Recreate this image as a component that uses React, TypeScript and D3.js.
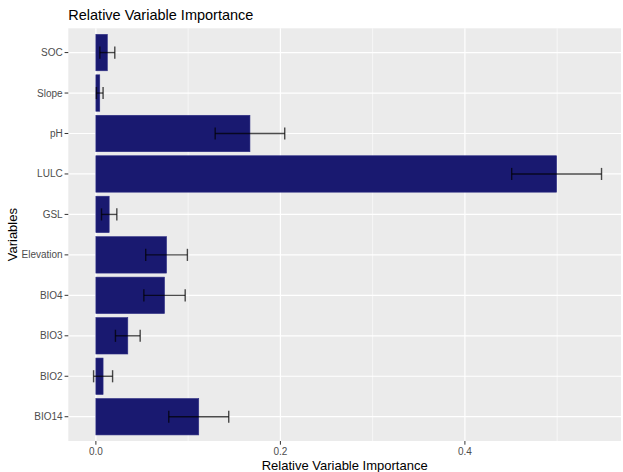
import React from "react";
import * as d3 from "d3";

// Variables listed from top to bottom of the chart
const variables = ["SOC", "Slope", "pH", "LULC", "GSL", "Elevation", "BIO4", "BIO3", "BIO2", "BIO14"];
// Mean relative importance per variable
const importance = [0.0124, 0.0042, 0.167, 0.4994, 0.0144, 0.0766, 0.0744, 0.0346, 0.0078, 0.1115];
// Standard deviation used for the error bars
const spread = [0.0081, 0.0036, 0.0377, 0.0487, 0.0083, 0.0226, 0.0224, 0.0134, 0.0103, 0.0325];
const majorTicks = [0, 0.2, 0.4];
const minorTicks = [0.1, 0.3, 0.5];

const W = 623;
const H = 472;
const panel = { left: 68.3, right: 621, top: 28.3, bottom: 441 };
const FONT = "'Liberation Sans', Arial, Helvetica, sans-serif";

export default function App() {
  const x = d3.scaleLinear().domain([-0.0299, 0.5692]).range([panel.left, panel.right]);
  // discrete axis: category centres spaced evenly with 0.6 unit expansion on each side
  const y = d3
    .scalePoint<string>()
    .domain(variables)
    .range([panel.top, panel.bottom])
    .padding(0.6);
  const step = y.step();
  const barH = step * 0.9;
  const capH = step * 0.3;

  return (
    <svg width={W} height={H} style={{ position: "absolute", left: 0, top: 0 }} fontFamily={FONT}>
      <rect x={0} y={0} width={W} height={H} fill="#ffffff" />
      <text x={panel.left} y={19.5} fontSize={14.5} fill="#000">
        Relative Variable Importance
      </text>
      <rect
        x={panel.left}
        y={panel.top}
        width={panel.right - panel.left}
        height={panel.bottom - panel.top}
        fill="#ebebeb"
      />
      {minorTicks.map((t) => (
        <line key={"mn" + t} x1={x(t)} x2={x(t)} y1={panel.top} y2={panel.bottom} stroke="#fff" strokeWidth={0.6} />
      ))}
      {majorTicks.map((t) => (
        <line key={"mj" + t} x1={x(t)} x2={x(t)} y1={panel.top} y2={panel.bottom} stroke="#fff" strokeWidth={1.2} />
      ))}
      {variables.map((v) => (
        <line key={"hg" + v} x1={panel.left} x2={panel.right} y1={y(v)!} y2={y(v)!} stroke="#fff" strokeWidth={1.2} />
      ))}
      {variables.map((v, i) => (
        <rect
          key={"b" + v}
          x={x(0)}
          y={y(v)! - barH / 2}
          width={x(importance[i]) - x(0)}
          height={barH}
          fill="#191970"
          stroke="#2e2e84"
          strokeWidth={0.6}
        />
      ))}
      {variables.map((v, i) => {
        const lo = x(importance[i] - spread[i]);
        const hi = x(importance[i] + spread[i]);
        const c = y(v)!;
        return (
          <g key={"e" + v} stroke="#000" strokeOpacity={0.7} strokeWidth={1.4} fill="none">
            <line x1={lo} x2={hi} y1={c} y2={c} />
            <line x1={lo} x2={lo} y1={c - capH / 2} y2={c + capH / 2} />
            <line x1={hi} x2={hi} y1={c - capH / 2} y2={c + capH / 2} />
          </g>
        );
      })}
      {variables.map((v) => (
        <g key={"yt" + v}>
          <line x1={panel.left - 3.7} x2={panel.left} y1={y(v)!} y2={y(v)!} stroke="#333" strokeWidth={1} />
          <text x={panel.left - 5.6} y={y(v)!} dy="0.35em" textAnchor="end" fontSize={10} fill="#4d4d4d">
            {v}
          </text>
        </g>
      ))}
      {majorTicks.map((t) => (
        <g key={"xt" + t}>
          <line x1={x(t)} x2={x(t)} y1={panel.bottom} y2={panel.bottom + 3.7} stroke="#333" strokeWidth={1} />
          <text x={x(t)} y={panel.bottom + 14} textAnchor="middle" fontSize={10} fill="#4d4d4d">
            {d3.format(".1f")(t)}
          </text>
        </g>
      ))}
      <text x={(panel.left + panel.right) / 2} y={469.5} textAnchor="middle" fontSize={13} fill="#000">
        Relative Variable Importance
      </text>
      <text
        transform={`translate(17, ${(panel.top + panel.bottom) / 2}) rotate(-90)`}
        textAnchor="middle"
        fontSize={13}
        fill="#000"
      >
        Variables
      </text>
    </svg>
  );
}
